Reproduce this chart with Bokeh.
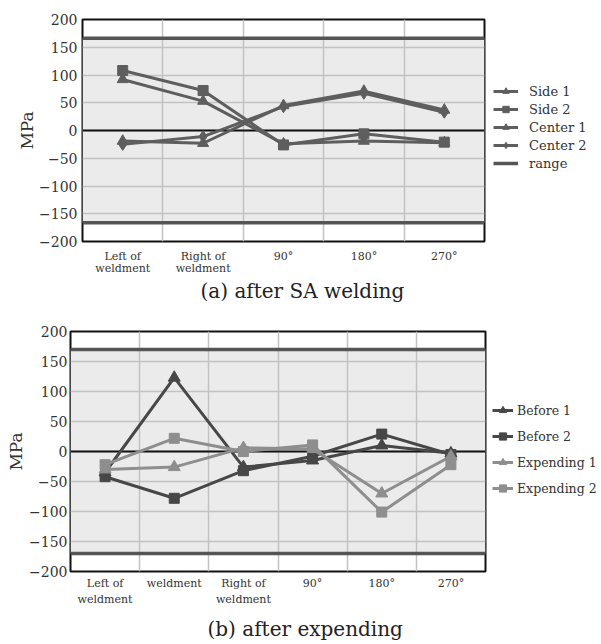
import numpy as np
from bokeh.plotting import figure
from bokeh.models import (FixedTicker, Span, BoxAnnotation, Legend, LegendItem,
                          Title, Range1d, ColumnDataSource)
from bokeh.layouts import column, row
from bokeh.embed import file_html
from bokeh.resources import INLINE

FONT = "DejaVu Serif"

# ---------------- (a) after SA welding ----------------
a_categories = ["Left of\nweldment", "Right of\nweldment", "90°", "180°", "270°"]
a_side1 = [92, 53, -24, -19, -22]
a_side2 = [108, 72, -26, -6, -21]
a_center1 = [-19, -23, 45, 71, 37]
a_center2 = [-25, -11, 43, 67, 33]
a_range = [166, -166]

# ---------------- (b) after expending ----------------
b_categories = ["Left of\nweldment", "weldment", "Right of\nweldment", "90°", "180°", "270°"]
b_before1 = [-35, 123, -26, -15, 10, -3]
b_before2 = [-42, -78, -32, -8, 29, -5]
b_expending1 = [-30, -26, 6, 4, -70, -8]
b_expending2 = [-22, 22, 0, 11, -101, -22]
b_range = [170, -170]

y_ticks = [-200, -150, -100, -50, 0, 50, 100, 150, 200]


def make_panel(categories, series, range_vals, range_label, caption, g):
    n = len(categories)
    xs = list(range(1, n + 1))
    p = figure(frame_width=g["fw"], frame_height=g["fh"],
               min_border_left=g["bl"], min_border_top=g["bt"],
               min_border_bottom=g["bb"], min_border_right=g["br"],
               x_range=Range1d(0.5, n + 0.5), y_range=Range1d(-200, 200),
               output_backend="svg", toolbar_location=None,
               background_fill_color="white", border_fill_color="white")
    p.outline_line_color = "#111111"
    p.outline_line_width = 2

    # grey band between the range limits
    p.add_layout(BoxAnnotation(bottom=range_vals[1], top=range_vals[0],
                               fill_color="#ebebeb", fill_alpha=1.0,
                               line_color=None, level="image"))

    p.xgrid.ticker = FixedTicker(ticks=[x + 0.5 for x in xs[:-1]])
    p.ygrid.ticker = FixedTicker(ticks=[t for t in y_ticks if abs(t) < 200])
    for gr in (p.xgrid, p.ygrid):
        gr.grid_line_color = "#c2c2c2"
        gr.grid_line_width = 1.5

    xa = p.xaxis[0]
    xa.ticker = FixedTicker(ticks=xs)
    xa.major_label_overrides = {x: c for x, c in zip(xs, categories)}
    xa.axis_line_color = None
    xa.major_tick_line_color = None
    xa.minor_tick_line_color = None
    xa.major_tick_out = 0
    xa.major_tick_in = 0
    xa.minor_tick_out = 0
    xa.major_label_text_font = FONT
    xa.major_label_text_font_size = "11px"
    xa.major_label_text_color = "#333333"
    xa.major_label_text_line_height = g["xlh"]
    xa.major_label_standoff = g["xs"]

    ya = p.yaxis[0]
    ya.ticker = FixedTicker(ticks=y_ticks)
    ya.axis_line_color = None
    ya.major_tick_line_color = None
    ya.minor_tick_line_color = None
    ya.major_tick_out = 0
    ya.major_tick_in = 0
    ya.minor_tick_out = 0
    ya.major_label_text_font = FONT
    ya.major_label_text_font_size = "14px"
    ya.major_label_text_color = "#333333"
    ya.major_label_standoff = g["ys"]
    ya.axis_label = "MPa"
    ya.axis_label_text_font = FONT
    ya.axis_label_text_font_size = "17px"
    ya.axis_label_text_font_style = "normal"
    ya.axis_label_text_color = "#333333"
    ya.axis_label_standoff = g["ls"]

    # range lines and zero line
    for v in range_vals:
        p.add_layout(Span(location=v, dimension="width", line_color="#555555",
                          line_width=3.5, level="underlay"))
    p.add_layout(Span(location=0, dimension="width", line_color="#111111",
                      line_width=2, level="underlay"))

    items = []
    for label, vals, color, marker, size in series:
        src = ColumnDataSource(dict(x=xs, y=vals))
        ln = p.line("x", "y", source=src, line_color=color, line_width=3)
        p.scatter("x", "y", source=src, marker=marker, size=size,
                  fill_color=color, line_color=color)
        dummy = p.scatter(x=[np.nan], y=[np.nan], marker=marker, size=4,
                          fill_color=color, line_color=color)
        items.append(LegendItem(label=label, renderers=[ln, dummy]))
    if range_label:
        rl = p.line(x=[np.nan, np.nan], y=[np.nan, np.nan],
                    line_color="#555555", line_width=3.5)
        items.append(LegendItem(label=range_label, renderers=[rl]))

    leg = Legend(items=items, location=(g["lm"], g["ly"]),
                 label_text_font=FONT, label_text_font_size=g["lfs"],
                 label_text_color="#333333",
                 glyph_width=g["gw"], glyph_height=g["gh"], label_height=g["gh"],
                 spacing=g["sp"], padding=0, margin=0,
                 label_standoff=g["lst"],
                 border_line_color=None, background_fill_alpha=0)
    p.add_layout(leg, "right")

    p.add_layout(Title(text=caption, align="left", offset=g["co"],
                       text_font=FONT, text_font_size="20px",
                       text_font_style="normal", text_color="#222222",
                       standoff=g["cs"]), "below")
    return p


top_series = [
    ("Side 1", a_side1, "#5e5e5e", "triangle", 11),
    ("Side 2", a_side2, "#5e5e5e", "square", 10),
    ("Center 1", a_center1, "#5e5e5e", "triangle", 11),
    ("Center 2", a_center2, "#5e5e5e", "diamond", 12),
]
bottom_series = [
    ("Before 1", b_before1, "#474747", "triangle", 12),
    ("Before 2", b_before2, "#474747", "square", 10),
    ("Expending 1", b_expending1, "#8e8e8e", "triangle", 12),
    ("Expending 2", b_expending2, "#8e8e8e", "square", 10),
]

g_top = dict(fw=402, fh=222, bl=82, bt=19, bb=78, br=117, xs=8, ys=5, ls=-1,
             xlh=0.95,
             lfs="13px", gw=25, gh=16, sp=2, lm=9, ly=70, lst=11, co=118, cs=-2)
g_bot = dict(fw=415, fh=240, bl=70, bt=12, bb=73, br=116, xs=5, ys=3, ls=0,
             xlh=1.3,
             lfs="12.5px", gw=21, gh=18, sp=8, lm=7, ly=74, lst=4, co=137, cs=10)

p1 = make_panel(a_categories, top_series, a_range, "range",
                "(a)  after SA welding", g_top)
p2 = make_panel(b_categories, bottom_series, b_range, None,
                "(b)  after expending", g_bot)

layout = column(row(p1), row(p2), spacing=0)
open("out.html", "w").write(file_html(layout, INLINE))
